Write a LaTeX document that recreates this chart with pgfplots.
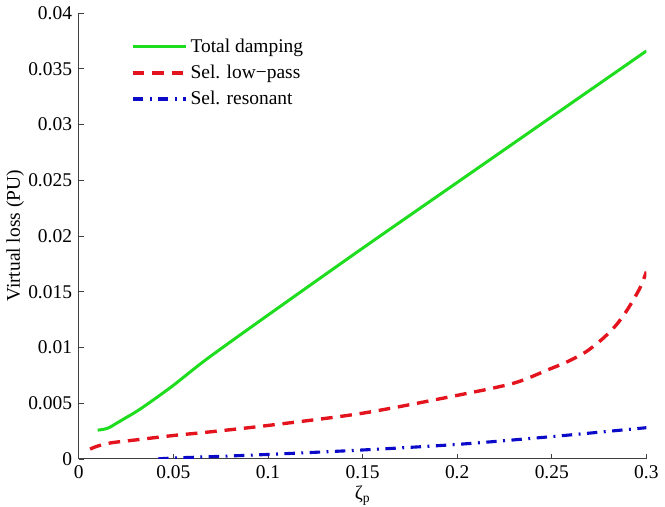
\documentclass[border=0pt]{standalone}
\usepackage{fontspec}
\setmainfont{Liberation Serif}
\usepackage{pgfplots}
\pgfplotsset{compat=1.18}
\definecolor{cgreen}{RGB}{30,220,30}
\definecolor{cred}{RGB}{228,20,30}
\definecolor{cblue}{RGB}{10,10,200}
\begin{document}
\fontsize{15}{18}\selectfont
\begin{tikzpicture}
\begin{axis}[
  scale only axis,
  width=438pt, height=344pt,
  xmin=0, xmax=0.3, ymin=0, ymax=0.04,
  scaled ticks=false,
  axis lines=left,
  axis line style={-, draw=black!75, line width=0.8pt},
  tick align=inside,
  major tick length=4pt,
  tick style={draw=black!75, line width=0.6pt},
  xtick={0,0.05,0.1,0.15,0.2,0.25,0.3},
  xticklabels={0,0.05,0.1,0.15,0.2,0.25,0.3},
  ytick={0,0.005,0.01,0.015,0.02,0.025,0.03,0.035,0.04},
  yticklabels={0,0.005,0.01,0.015,0.02,0.025,0.03,0.035,0.04},
  ticklabel style={font=\fontsize{15}{18}\selectfont},
  xlabel={ζ\textsubscript{p}},
  ylabel={Virtual loss (PU)},
  xlabel style={inner sep=1pt, yshift=0.5pt},
  ylabel style={yshift=-7pt},
  label style={font=\fontsize{15}{18}\selectfont},
  legend style={at={(rel axis cs:0.085,0.955)}, anchor=north west, draw=none, fill=none,
    font=\fontsize{15}{18}\selectfont, row sep=3.5pt},
  legend cell align=left,
  legend image code/.code={\draw[#1] (0cm,0cm) -- (1.45cm,0cm);},
]
\addplot[cgreen, line width=2.3pt, smooth] coordinates {
(0.010,0.00258) (0.013,0.00265) (0.016,0.0028) (0.02,0.0032) (0.025,0.0037) (0.03,0.0042)
(0.037,0.0050) (0.05,0.0066) (0.068,0.0090) (0.1,0.0129) (0.15,0.0189)
(0.2,0.0248) (0.25,0.0307) (0.3,0.0366)};
\addlegendentry{Total damping}
\addplot[cred, line width=2.6pt, dash pattern=on 9pt off 6pt, smooth] coordinates {
(0.006,0.00088) (0.01,0.00115) (0.0174,0.00145) (0.03,0.0017) (0.05,0.0021)
(0.068,0.0024) (0.1,0.0030) (0.15,0.0041) (0.2,0.0057) (0.23,0.0068)
(0.248,0.0080) (0.258,0.0087) (0.268,0.0096) (0.277,0.0108) (0.284,0.0120)
(0.29,0.0134) (0.2965,0.0153) (0.3,0.0168)};
\addlegendentry{Sel. low\textminus pass}
\addplot[cblue, line width=2.4pt, dash pattern=on 8pt off 5pt on 1.5pt off 5pt, smooth] coordinates {
(0.042,0) (0.05,0.00008) (0.07,0.0002) (0.1,0.0004) (0.15,0.0008) (0.2,0.0013)
(0.25,0.0020) (0.3,0.0028)};
\addlegendentry{Sel. resonant}
\end{axis}
\end{tikzpicture}
\end{document}
